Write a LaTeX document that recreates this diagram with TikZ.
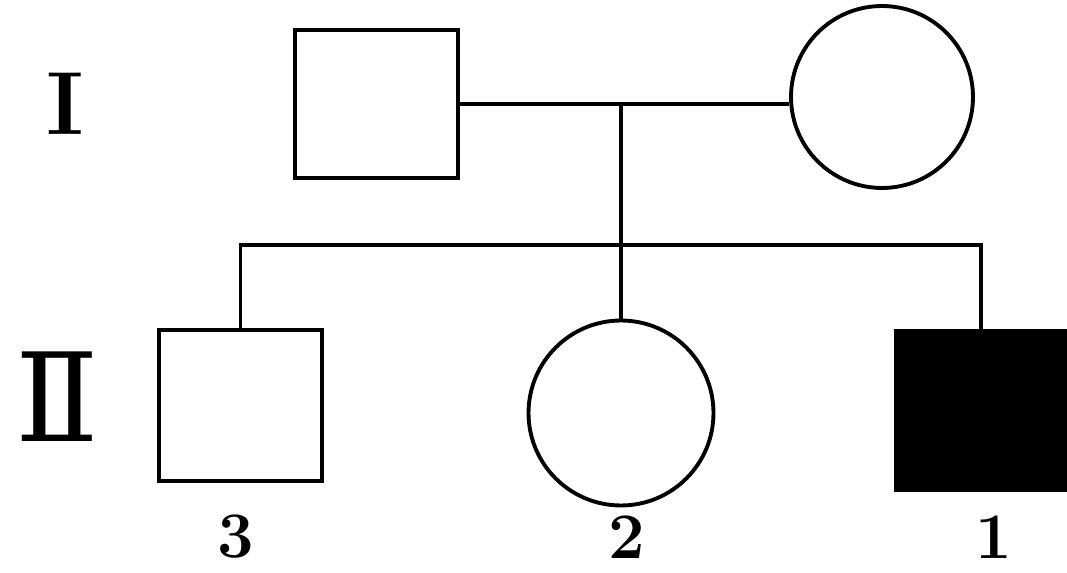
\documentclass[tikz,border=0pt]{standalone}
\usepackage{fontspec}
\newfontfamily\genfont{DejaVu Serif}
\usetikzlibrary{positioning}

\begin{document}
\begin{tikzpicture}[x=0.02cm,y=-0.02cm,line width=2.2pt]
\tikzstyle{male}=[rectangle,draw=black,fill=white,line width=2.2pt,minimum width=3.26cm,minimum height=2.96cm]
\tikzstyle{female}=[circle,draw=black,fill=white,line width=2.2pt,inner sep=0pt]
\tikzstyle{ill}=[fill=black]
\tikzstyle{gen}=[font=\fontsize{51}{51}\selectfont\bfseries]
\tikzstyle{num}=[font=\fontsize{37}{37}\selectfont\bfseries,inner sep=0pt]
\useasboundingbox (0,0) rectangle (1067,573);
% generation I
\node[male] (I1) at (376.5,104) {};
\node[female,minimum size=3.64cm] (I2) at (882,97) {};
% generation II
\node[male,minimum height=3.02cm] (II3) at (240.5,405.5) {};
\node[female,minimum size=3.7cm] (II2) at (621,413) {};
\node[male,ill,minimum width=3.4cm,minimum height=3.18cm] (II1) at (981,410.5) {};
\coordinate (m) at (621,104);
\coordinate (s) at (621,245);
\path[draw]
(I1.east) -- (I1.east -| I2.west)
(m) -- (II2.north)
(II3.north) |- (s) -| (II1.north);
% labels
\node[gen] (gI) at (65,104) {I};
\node[font=\fontsize{70}{70}\selectfont\genfont] (gII) at (57,397) {Ⅱ};
\node[num] (n3) at (236,537) {3};
\node[num] (n2) at (627,537) {2};
\node[num] (n1) at (994,537) {1};
\end{tikzpicture}
\end{document}
